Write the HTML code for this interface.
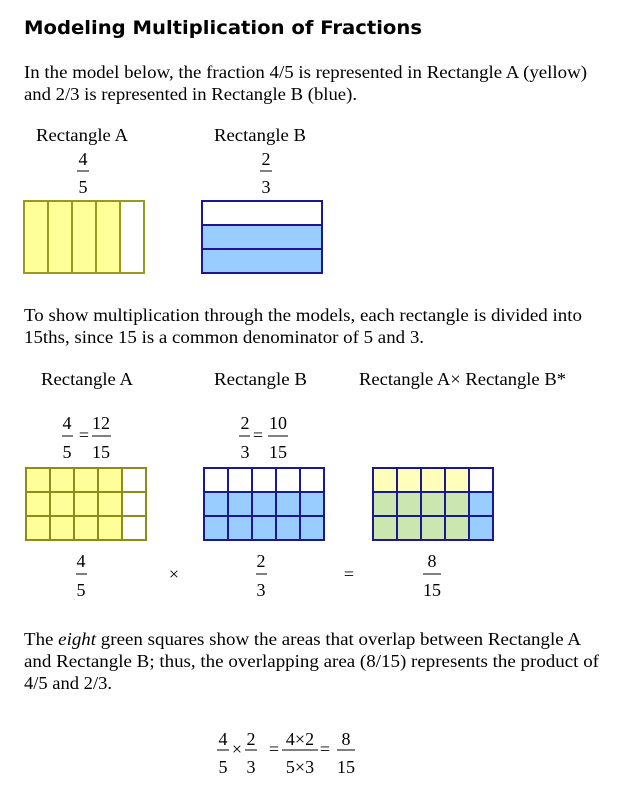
<!DOCTYPE html>
<html><head><meta charset="utf-8"><style>
html,body{margin:0;padding:0;background:#fff;width:640px;height:795px;overflow:hidden}
svg text{font-family:"Liberation Serif",serif;font-size:18px;fill:#000}
.t{font-family:"DejaVu Sans","Liberation Sans",sans-serif;font-weight:bold;font-size:19px}
.c{text-anchor:middle}
</style></head><body>
<svg width="640" height="795" viewBox="0 0 640 795" xmlns="http://www.w3.org/2000/svg">
<text class="t" x="24" y="34" textLength="398" lengthAdjust="spacingAndGlyphs">Modeling Multiplication of Fractions</text>
<text x="24" y="78" textLength="563" lengthAdjust="spacingAndGlyphs">In the model below, the fraction 4/5 is represented in Rectangle A (yellow)</text>
<text x="24" y="100" textLength="333" lengthAdjust="spacingAndGlyphs">and 2/3 is represented in Rectangle B (blue).</text>

<text x="36" y="141" textLength="92" lengthAdjust="spacingAndGlyphs">Rectangle A</text>
<text x="214" y="141" textLength="92" lengthAdjust="spacingAndGlyphs">Rectangle B</text>
<text class="c" x="83" y="165">4</text><line x1="77" y1="171" x2="89" y2="171" stroke="#000" stroke-width="1"/><text class="c" x="83" y="193">5</text>
<text class="c" x="266" y="165">2</text><line x1="260" y1="171" x2="272" y2="171" stroke="#000" stroke-width="1"/><text class="c" x="266" y="193">3</text>

<rect x="24" y="201" width="96" height="72" fill="#FFFF99"/>
<g stroke="#999922" stroke-width="2" fill="none">
<rect x="24" y="201" width="120" height="72"/>
<line x1="48" y1="201" x2="48" y2="273"/><line x1="72" y1="201" x2="72" y2="273"/><line x1="96" y1="201" x2="96" y2="273"/><line x1="120" y1="201" x2="120" y2="273"/>
</g>
<rect x="202" y="225" width="120" height="48" fill="#99CCFF"/>
<g stroke="#1a1a8c" stroke-width="2" fill="none">
<rect x="202" y="201" width="120" height="72"/>
<line x1="202" y1="225" x2="322" y2="225"/><line x1="202" y1="249" x2="322" y2="249"/>
</g>

<text x="24" y="321" textLength="558" lengthAdjust="spacingAndGlyphs">To show multiplication through the models, each rectangle is divided into</text>
<text x="24" y="343" textLength="400" lengthAdjust="spacingAndGlyphs">15ths, since 15 is a common denominator of 5 and 3.</text>

<text x="41" y="385" textLength="92" lengthAdjust="spacingAndGlyphs">Rectangle A</text>
<text x="214" y="385" textLength="93" lengthAdjust="spacingAndGlyphs">Rectangle B</text>
<text x="359" y="385" textLength="207" lengthAdjust="spacingAndGlyphs">Rectangle A× Rectangle B*</text>

<text class="c" x="67" y="429">4</text><line x1="62" y1="436" x2="73" y2="436" stroke="#000"/><text class="c" x="67" y="458">5</text>
<text class="c" x="84" y="441">=</text>
<text class="c" x="101" y="429">12</text><line x1="92" y1="436" x2="111" y2="436" stroke="#000"/><text class="c" x="101" y="458">15</text>
<text class="c" x="245" y="429">2</text><line x1="239" y1="436" x2="250" y2="436" stroke="#000"/><text class="c" x="245" y="458">3</text>
<text class="c" x="258" y="441">=</text>
<text class="c" x="278" y="429">10</text><line x1="268" y1="436" x2="288" y2="436" stroke="#000"/><text class="c" x="278" y="458">15</text>

<rect x="26" y="468" width="96" height="72" fill="#FFFF99"/>
<g stroke="#8c8c1a" stroke-width="2" fill="none">
<rect x="26" y="468" width="120" height="72"/>
<line x1="50" y1="468" x2="50" y2="540"/><line x1="74" y1="468" x2="74" y2="540"/><line x1="98" y1="468" x2="98" y2="540"/><line x1="122" y1="468" x2="122" y2="540"/>
<line x1="26" y1="492" x2="146" y2="492"/><line x1="26" y1="516" x2="146" y2="516"/>
</g>
<rect x="204" y="492" width="120" height="48" fill="#99CCFF"/>
<g stroke="#1a1a8c" stroke-width="2" fill="none">
<rect x="204" y="468" width="120" height="72"/>
<line x1="228" y1="468" x2="228" y2="540"/><line x1="252" y1="468" x2="252" y2="540"/><line x1="276" y1="468" x2="276" y2="540"/><line x1="300" y1="468" x2="300" y2="540"/>
<line x1="204" y1="492" x2="324" y2="492"/><line x1="204" y1="516" x2="324" y2="516"/>
</g>
<rect x="373" y="468" width="96" height="24" fill="#FFFFBB"/>
<rect x="373" y="492" width="96" height="48" fill="#CCE6B0"/>
<rect x="469" y="492" width="24" height="48" fill="#99CCFF"/>
<g stroke="#1a1a8c" stroke-width="2" fill="none">
<rect x="373" y="468" width="120" height="72"/>
<line x1="397" y1="468" x2="397" y2="540"/><line x1="421" y1="468" x2="421" y2="540"/><line x1="445" y1="468" x2="445" y2="540"/><line x1="469" y1="468" x2="469" y2="540"/>
<line x1="373" y1="492" x2="493" y2="492"/><line x1="373" y1="516" x2="493" y2="516"/>
</g>

<text class="c" x="81" y="567">4</text><line x1="76" y1="574" x2="87" y2="574" stroke="#000"/><text class="c" x="81" y="596">5</text>
<text class="c" x="174" y="580">×</text>
<text class="c" x="261" y="567">2</text><line x1="256" y1="574" x2="267" y2="574" stroke="#000"/><text class="c" x="261" y="596">3</text>
<text class="c" x="349" y="580">=</text>
<text class="c" x="432" y="567">8</text><line x1="423" y1="574" x2="441" y2="574" stroke="#000"/><text class="c" x="432" y="596">15</text>

<text x="24" y="645" textLength="557" lengthAdjust="spacingAndGlyphs">The <tspan font-style="italic">eight</tspan> green squares show the areas that overlap between Rectangle A</text>
<text x="24" y="667" textLength="575" lengthAdjust="spacingAndGlyphs">and Rectangle B; thus, the overlapping area (8/15) represents the product of</text>
<text x="24" y="689" textLength="88" lengthAdjust="spacingAndGlyphs">4/5 and 2/3.</text>

<text class="c" x="223" y="745">4</text><line x1="217" y1="750" x2="229" y2="750" stroke="#000"/><text class="c" x="223" y="773">5</text>
<text class="c" x="237" y="755">×</text>
<text class="c" x="251" y="745">2</text><line x1="245" y1="750" x2="257" y2="750" stroke="#000"/><text class="c" x="251" y="773">3</text>
<text class="c" x="274" y="755">=</text>
<text class="c" x="300" y="745">4×2</text><line x1="282" y1="750" x2="318" y2="750" stroke="#000"/><text class="c" x="300" y="773">5×3</text>
<text class="c" x="325" y="755">=</text>
<text class="c" x="346" y="745">8</text><line x1="337" y1="750" x2="355" y2="750" stroke="#000"/><text class="c" x="346" y="773">15</text>
</svg>
</body></html>
